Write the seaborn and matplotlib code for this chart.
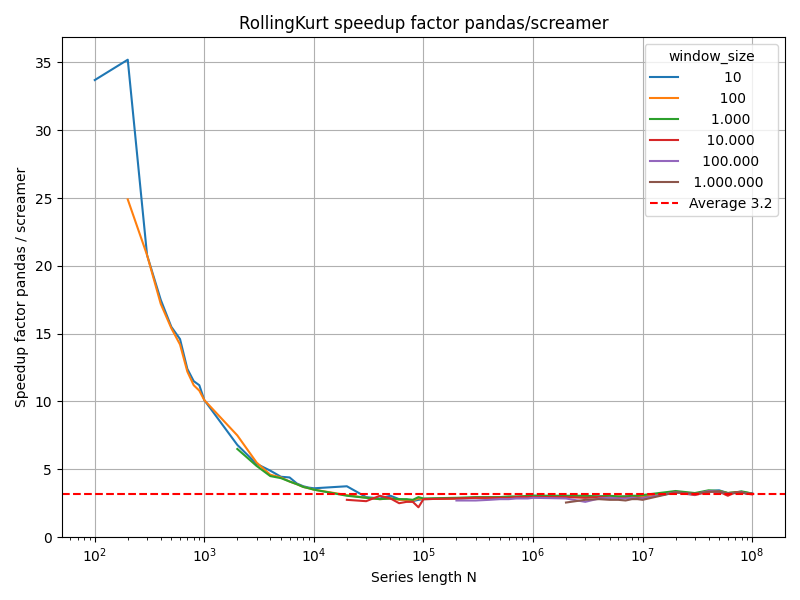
import numpy as np
import pandas as pd
import matplotlib
matplotlib.use("Agg")
import matplotlib.pyplot as plt
import seaborn as sns

# Series lengths (1..9 per decade, 1e2 .. 1e8)
n_values = [100, 200, 300, 400, 500, 600, 700, 800, 900,
            1000, 2000, 3000, 4000, 5000, 6000, 7000, 8000, 9000,
            10000, 20000, 30000, 40000, 50000, 60000, 70000, 80000, 90000,
            100000, 200000, 300000, 400000, 500000, 600000, 700000, 800000, 900000,
            1000000, 2000000, 3000000, 4000000, 5000000, 6000000, 7000000, 8000000, 9000000,
            10000000, 20000000, 30000000, 40000000, 50000000, 60000000, 70000000, 80000000, 90000000,
            100000000]

window_sizes = [10, 100, 1000, 10000, 100000, 1000000]

# speedup per window size, aligned to the tail of n_values
speedup_10 = [33.7, 35.2, 20.8, 17.5, 15.5, 14.6, 12.4, 11.5, 11.2,
              10.1, 6.8, 5.4, 4.9, 4.45, 4.4, 3.95, 3.75, 3.65,
              3.6, 3.75, 2.95, 2.85, 3.05, 2.8, 2.7, 2.65, 2.75,
              2.8, 2.85, 2.9, 2.9, 2.9, 2.95, 2.95, 3.0, 3.0,
              3.05, 3.0, 2.95, 3.0, 3.0, 2.95, 3.0, 2.95, 3.0,
              3.0, 3.35, 3.2, 3.4, 3.45, 3.25, 3.3, 3.35, 3.2,
              3.25]
speedup_100 = [24.9, 20.8, 17.2, 15.4, 14.2, 12.2, 11.2, 10.8,
               10.1, 7.5, 5.5, 4.6, 4.4, 4.1, 3.9, 3.7, 3.6,
               3.5, 3.1, 2.9, 2.8, 2.85, 2.75, 2.75, 2.7, 2.85,
               2.8, 2.85, 2.9, 2.9, 2.95, 2.95, 2.95, 3.0, 2.95,
               3.0, 3.0, 3.0, 2.95, 3.0, 3.0, 2.95, 3.0, 3.0,
               3.05, 3.3, 3.2, 3.35, 3.4, 3.25, 3.3, 3.3, 3.25,
               3.2]
speedup_1000 = [6.5, 5.25, 4.5, 4.35, 4.1, 3.9, 3.7, 3.6,
                3.5, 3.05, 2.9, 2.8, 2.85, 2.8, 2.8, 2.75, 2.95,
                2.85, 2.9, 2.95, 2.95, 2.95, 3.0, 3.0, 3.0, 3.05,
                3.05, 3.05, 3.05, 3.0, 3.05, 3.0, 3.0, 3.05, 3.05,
                3.1, 3.4, 3.25, 3.45, 3.4, 3.25, 3.3, 3.37, 3.3,
                3.2]
speedup_10000 = [2.75, 2.65, 3.05, 2.85, 2.5, 2.6, 2.6, 2.2,
                 2.8, 2.85, 2.9, 2.9, 2.9, 2.9, 2.95, 2.95, 2.95,
                 2.95, 2.95, 2.9, 2.95, 2.9, 2.85, 2.9, 2.9, 2.9,
                 2.85, 3.3, 3.1, 3.35, 3.35, 3.05, 3.3, 3.3, 3.2,
                 3.15]
speedup_100000 = [2.7, 2.7, 2.75, 2.8, 2.8, 2.85, 2.85, 2.85,
                  2.9, 2.85, 2.6, 2.85, 2.9, 2.85, 2.85, 2.9, 2.85,
                  2.85, 3.3, 3.15, 3.4, 3.35, 3.2, 3.25, 3.3, 3.2,
                  3.2]
speedup_1000000 = [2.55, 2.75, 2.8, 2.75, 2.75, 2.7, 2.8, 2.8,
                   2.75, 3.3, 3.2, 3.35, 3.35, 3.2, 3.25, 3.3, 3.2,
                   3.2]

average_speedup = 3.2

series = [speedup_10, speedup_100, speedup_1000,
          speedup_10000, speedup_100000, speedup_1000000]

rows = []
labels = []
for w, vals in zip(window_sizes, series):
    label = f"{w:,}".replace(",", ".").rjust(10)
    labels.append(label)
    ns = n_values[len(n_values) - len(vals):]
    for n, v in zip(ns, vals):
        rows.append({"N": n, "speedup": v, "window_size": label})
df = pd.DataFrame(rows)

fig, ax = plt.subplots(figsize=(8, 6), dpi=100)
sns.lineplot(data=df, x="N", y="speedup", hue="window_size", hue_order=labels,
             palette="tab10", ax=ax)
ax.axhline(average_speedup, color="red", linestyle="--",
           label=f"Average {average_speedup}")
ax.set_xscale("log")
ax.set_ylim(bottom=0)
ax.grid(True)
ax.set_title("RollingKurt speedup factor pandas/screamer")
ax.set_xlabel("Series length N")
ax.set_ylabel("Speedup factor pandas / screamer")
ax.legend(title="window_size", loc="upper right")
plt.tight_layout()
plt.savefig("out.png")
